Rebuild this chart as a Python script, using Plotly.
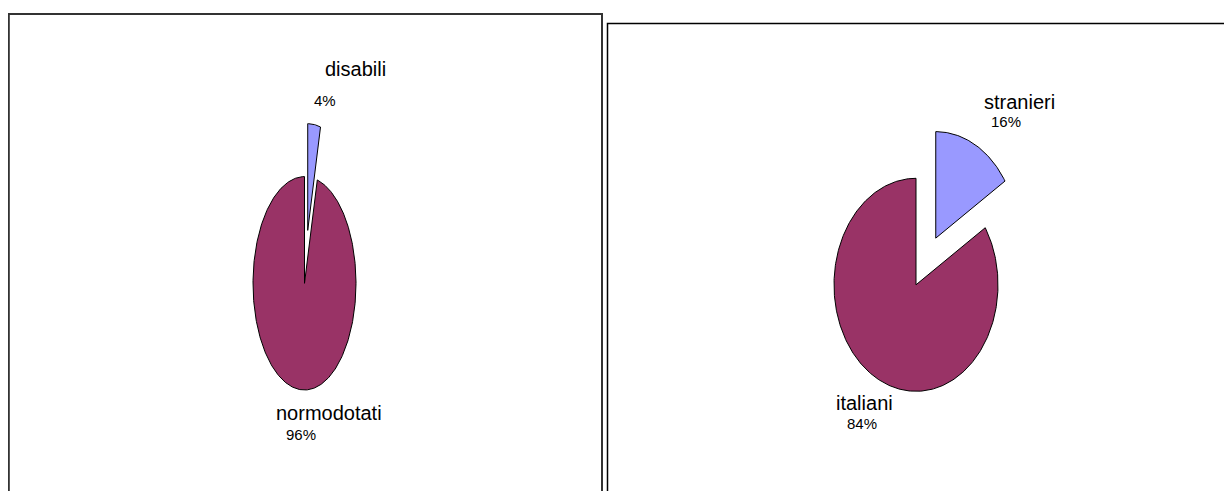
import numpy as np
import plotly.graph_objects as go

# ---- data ----
left_labels = ["disabili", "normodotati"]
left_values = [4, 96]
right_labels = ["stranieri", "italiani"]
right_values = [16, 84]

# ---- styling / layout parameters ----
W, H = 1232, 491
OFF = 8  # default page body margin
COL_SMALL = "#9999FF"
COL_BIG = "#993366"
FONT = "Liberation Sans, Arial, sans-serif"

pies = [
    dict(labels=left_labels, values=left_values, cx=304.5, cy=283.3, rx=51.5, ry=106.7,
         explode=[0.5, 0.0],
         name_pos=[(355, 68.7), (329, 413)], pct_pos=[(324.5, 100.5), (301, 434)]),
    dict(labels=right_labels, values=right_values, cx=916, cy=284.8, rx=82, ry=106.5,
         explode=[0.5, 0.0],
         name_pos=[(1019.5, 102), (864.5, 403)], pct_pos=[(1006, 121), (862, 423)]),
]
colors = [COL_SMALL, COL_BIG]

fig = go.Figure()
annotations = []

for p in pies:
    vals = np.array(p["values"], dtype=float)
    fr = vals / vals.sum()
    start = 0.0
    wedges = []
    for i, f in enumerate(fr):
        a0, a1 = start * 2 * np.pi, (start + f) * 2 * np.pi
        mid = (a0 + a1) / 2
        ox = p["rx"] * p["explode"][i] * np.sin(mid)
        oy = -p["ry"] * p["explode"][i] * np.cos(mid)
        t = np.linspace(a0, a1, max(8, int(f * 400)))
        xs = p["cx"] + ox + p["rx"] * np.sin(t)
        ys = p["cy"] + oy - p["ry"] * np.cos(t)
        xs = np.concatenate([[p["cx"] + ox], xs, [p["cx"] + ox]])
        ys = np.concatenate([[p["cy"] + oy], ys, [p["cy"] + oy]])
        wedges.append((i, xs, ys, f))
        start += f
    # draw big slice first, then small
    for i, xs, ys, f in sorted(wedges, key=lambda w: -w[3]):
        fig.add_trace(go.Scatter(
            x=xs, y=ys, mode="lines", fill="toself",
            fillcolor=colors[i], line=dict(color="black", width=1),
            name=p["labels"][i], hoverinfo="name", showlegend=False))
    for i, lab in enumerate(p["labels"]):
        nx, ny = p["name_pos"][i]
        px_, py_ = p["pct_pos"][i]
        annotations.append(dict(x=nx, y=ny, xref="x", yref="y", text=lab, showarrow=False,
                                xanchor="center", yanchor="middle",
                                font=dict(family=FONT, size=20, color="black")))
        annotations.append(dict(x=px_, y=py_, xref="x", yref="y",
                                text=f"{int(round(fr[i] * 100))}%", showarrow=False,
                                xanchor="center", yanchor="middle",
                                font=dict(family=FONT, size=15, color="black")))

shapes = [
    dict(type="rect", xref="x", yref="y", x0=8.8, x1=602, y0=14, y1=620,
         line=dict(color="#333333", width=2), fillcolor="rgba(0,0,0,0)", layer="below"),
    dict(type="rect", xref="x", yref="y", x0=607.5, x1=1400, y0=23.5, y1=620,
         line=dict(color="black", width=1.5), fillcolor="rgba(0,0,0,0)", layer="below"),
]

fig.update_layout(
    width=W - OFF, height=H - OFF, autosize=False,
    margin=dict(l=0, r=0, t=0, b=0),
    paper_bgcolor="white", plot_bgcolor="white",
    xaxis=dict(range=[OFF, W], visible=False, fixedrange=True),
    yaxis=dict(range=[H, OFF], visible=False, fixedrange=True),
    annotations=annotations, shapes=shapes,
    showlegend=False,
)

fig.write_html("out.html")
